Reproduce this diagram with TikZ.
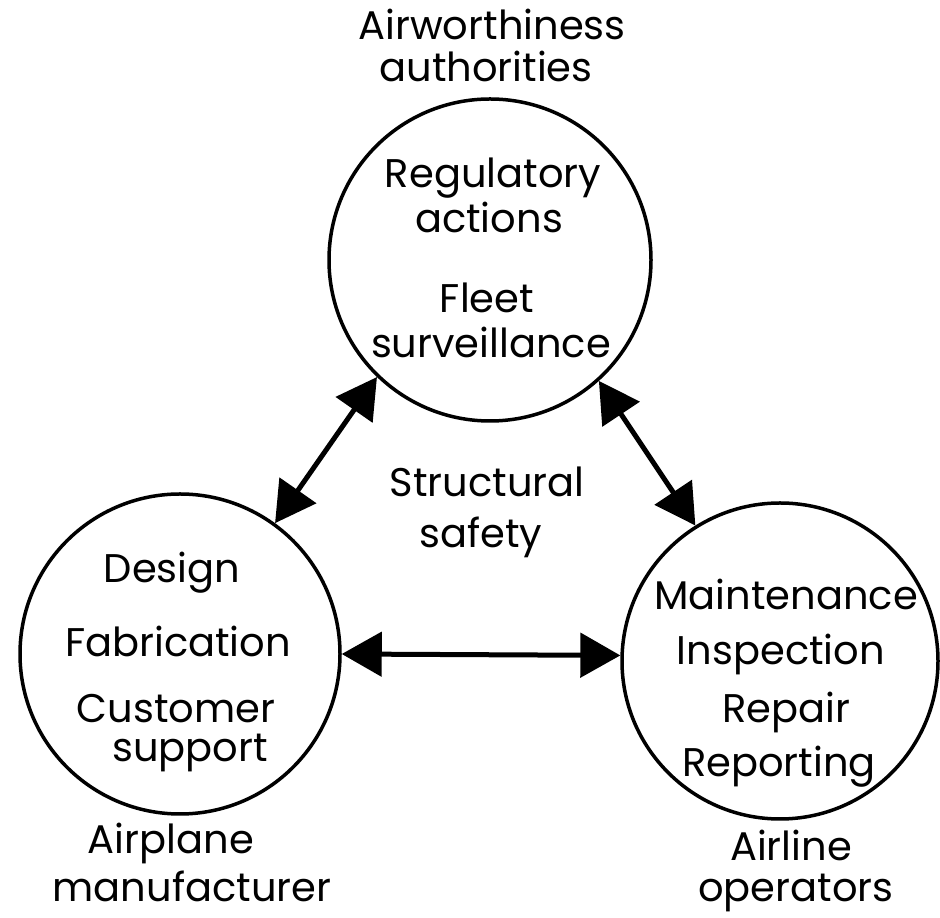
\documentclass[tikz,border=0pt]{standalone}
\usepackage{fontspec}
\setmainfont{Poppins}
\usetikzlibrary{arrows.meta}

\begin{document}
\begin{tikzpicture}[x=1pt,y=1pt,
    party/.style={draw,circle,line width=3.5pt,inner sep=0pt},
    lbl/.style={anchor=base,inner sep=0pt,font=\fontsize{40}{44}\selectfont},
    link/.style={{Triangle[length=40pt,width=44pt]}-{Triangle[length=40pt,width=44pt]},
      line width=5pt}]
        \useasboundingbox (0,0) rectangle (940,918);
        % the three parties
        \node[party,minimum size=322pt] (auth) at (490,658) {};
        \node[party,minimum size=320pt] (maker) at (180,264) {};
        \node[party,minimum size=316pt] (airline) at (780,257) {};
        % labels, one line each
        \foreach \t/\x/\y [count=\i] in {%
          Airworthiness/492/878, authorities/486/836,
          Regulatory/493/730, actions/489/685,
          Fleet/487/605, surveillance/491/560,
          Structural/487/421, safety/481/370,
          Design/172/335, Fabrication/178/261,
          Customer/176/195, support/190/156,
          Maintenance/786/308, Inspection/781/253,
          Repair/786/195, Reporting/779/141,
          Airplane/171/64, manufacturer/192/16,
          Airline/791/57, operators/796/16} {
            \node[lbl] (t\i) at (\x,\y) {\t};
        }
        % links between the parties
        \draw[link] (maker.54) -- (auth.226);
        \draw[link] (auth.312) -- (airline.122);
        \draw[link] (maker.0) -- (airline.178);
\end{tikzpicture}
\end{document}
